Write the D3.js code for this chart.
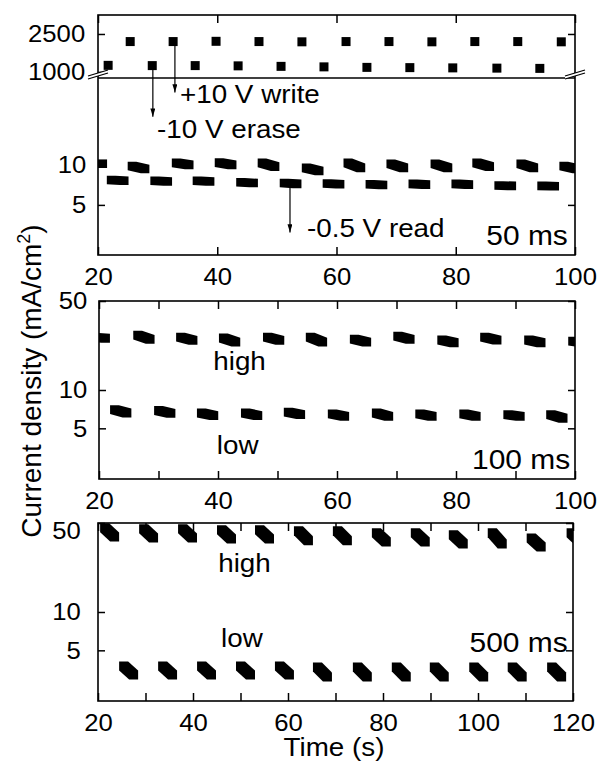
<!DOCTYPE html>
<html>
<head>
<meta charset="utf-8">
<script src="https://cdn.jsdelivr.net/npm/d3@7"></script>
<style>
body{margin:0;background:#fff;}
text{font-family:"Liberation Sans",Arial,sans-serif;fill:#000;}
</style>
</head>
<body>
<svg id="chart" width="597" height="764"></svg>
<script>
// ---- data ----
// write / erase pulses, 50 ms panel (mA/cm2)
const writeT = [25.4, 32.6, 39.8, 47.0, 54.2, 61.6, 68.8, 76.0, 83.2, 90.4, 97.7];
const writeV = [2200, 2200, 2210, 2200, 2190, 2200, 2200, 2190, 2200, 2200, 2190];
const eraseT = [21.7, 29.1, 36.3, 43.5, 50.7, 57.9, 65.1, 72.3, 79.5, 86.9, 94.1];
const eraseV = [1260, 1250, 1250, 1240, 1220, 1200, 1180, 1170, 1160, 1150, 1140];

// read dashes: [t start, t end, value start, value end]
const read50High = [
  [19.2, 20.8, 10.2, 10.2], [25.7, 27.9, 9.8, 9.3], [33.1, 35.3, 10.35, 10.0],
  [40.3, 42.5, 10.4, 10.0], [47.5, 49.7, 10.35, 9.7], [54.9, 57.1, 9.5, 9.0],
  [61.9, 64.1, 10.35, 9.5], [69.1, 71.3, 10.2, 9.5], [76.5, 78.7, 10.2, 9.5],
  [83.5, 85.7, 10.35, 9.7], [90.9, 93.1, 10.2, 9.5], [98.1, 100.3, 9.8, 9.3]
];
const read50Low = [
  [22.2, 24.4, 7.7, 7.6], [29.5, 31.7, 7.6, 7.5], [36.6, 38.8, 7.6, 7.5],
  [43.9, 46.1, 7.4, 7.3], [51.2, 53.4, 7.3, 7.2], [58.4, 60.6, 7.25, 7.15],
  [65.6, 67.8, 7.15, 7.05], [72.8, 75.0, 7.2, 7.1], [80.0, 82.2, 7.2, 7.1],
  [87.2, 89.4, 7.0, 6.95], [94.4, 96.6, 6.95, 6.9]
];
const read100High = [
  [19.0, 21.1, 26.0, 25.5], [26.5, 28.6, 27.0, 25.0], [33.7, 35.8, 26.0, 24.5],
  [40.9, 43.0, 25.6, 23.8], [48.3, 50.4, 26.0, 24.5], [55.5, 57.6, 26.0, 23.8],
  [62.9, 65.0, 25.1, 23.8], [70.2, 72.3, 26.5, 25.0], [77.6, 79.7, 24.7, 23.5],
  [84.8, 86.9, 26.0, 24.6], [92.2, 94.3, 24.7, 23.5], [99.6, 101.7, 24.2, 23.5]
];
const read100Low = [
  [22.6, 24.7, 7.0, 6.6], [30.0, 32.1, 6.9, 6.55], [37.2, 39.3, 6.6, 6.3],
  [44.6, 46.7, 6.6, 6.3], [51.8, 53.9, 6.7, 6.4], [59.2, 61.3, 6.5, 6.2],
  [66.6, 68.7, 6.6, 6.2], [73.9, 76.0, 6.5, 6.2], [81.3, 83.4, 6.5, 6.2],
  [88.7, 90.8, 6.4, 6.2], [95.9, 98.0, 6.4, 6.0]
];
const read500High = [
  [21.4, 23.5, 45.9, 38.9], [29.6, 31.7, 45.1, 38.2], [37.8, 39.9, 45.1, 38.2],
  [46.0, 48.1, 44.3, 37.5], [54.0, 56.1, 44.3, 37.5], [62.2, 64.3, 43.5, 36.2],
  [70.4, 72.5, 43.5, 36.2], [78.6, 80.7, 41.9, 35.5], [86.8, 88.9, 41.9, 35.5],
  [94.8, 96.9, 40.4, 34.2], [103.0, 105.1, 41.9, 34.2], [111.2, 113.3, 38.2, 32.4],
  [119.6, 121.7, 41.9, 35.5]
];
const read500Low = [
  [25.4, 27.5, 3.77, 3.2], [33.6, 35.7, 3.77, 3.2], [41.8, 43.9, 3.77, 3.2],
  [50.0, 52.1, 3.77, 3.2], [58.2, 60.3, 3.77, 3.2], [66.2, 68.3, 3.7, 3.09],
  [74.6, 76.7, 3.7, 3.09], [82.8, 84.9, 3.7, 3.09], [90.8, 92.9, 3.7, 3.09],
  [99.1, 101.2, 3.7, 3.09], [107.2, 109.3, 3.7, 3.09], [115.5, 117.6, 3.7, 3.09]
];

// tick values
const ticks100 = [20, 40, 60, 80, 100];
const minor100 = [20, 30, 40, 50, 60, 70, 80, 90, 100];
const ticks120 = [20, 40, 60, 80, 100, 120];
const minor120 = [20, 30, 40, 50, 60, 70, 80, 90, 100, 110, 120];
const upperTicks = [1000, 2500];
const logTicks = [5, 10, 50];

const SX = 1.07; // figure text is a little wide

const svg = d3.select("#chart");
svg.append("rect").attr("width", 597).attr("height", 764).attr("fill", "#fff");

const defs = svg.append("defs");
defs.append("marker").attr("id", "arr")
  .attr("viewBox", "0 0 10 6").attr("refX", 10).attr("refY", 3)
  .attr("markerWidth", 9).attr("markerHeight", 5).attr("markerUnits", "userSpaceOnUse")
  .attr("orient", "auto")
  .append("path").attr("d", "M0,0L10,3L0,6Z").attr("fill", "#000");

function hex(x0, y0, x1, y1, h){
  if (y1 >= y0)
    return `M${x0-h},${y0-h}L${x0+h},${y0-h}L${x1+h},${y1-h}L${x1+h},${y1+h}L${x1-h},${y1+h}L${x0-h},${y0+h}Z`;
  return `M${x0-h},${y0-h}L${x1-h},${y1-h}L${x1+h},${y1-h}L${x1+h},${y1+h}L${x0+h},${y0+h}L${x0-h},${y0+h}Z`;
}

function dashes(g, x, y, rows, h){
  g.selectAll(null).data(rows).join("path")
    .attr("d", r => hex(x(r[0]), y(r[2]), x(r[1]), y(r[3]), h))
    .attr("fill", "#000");
}

function clip(id, x0, y0, x1, y1){
  defs.append("clipPath").attr("id", id).append("rect")
    .attr("x", x0).attr("y", y0).attr("width", x1 - x0).attr("height", y1 - y0);
}

function styleAxis(g, size){
  g.select(".domain").remove();
  g.selectAll("line").attr("stroke", "#000").attr("stroke-width", 1.5);
  g.selectAll("text").attr("font-size", size).attr("font-family", null)
    .attr("transform", `scale(${SX},1)`);
}

function xAxes(x, top, bottom, major, minor, labels){
  svg.append("g").attr("transform", `translate(0,${bottom})`)
    .call(d3.axisBottom(x).tickValues(minor).tickSize(-8).tickFormat(""))
    .call(styleAxis, 24);
  svg.append("g").attr("transform", `translate(0,${top})`)
    .call(d3.axisTop(x).tickValues(minor).tickSize(-8).tickFormat(""))
    .call(styleAxis, 24);
  if (labels){
    svg.append("g").attr("transform", `translate(0,${bottom})`)
      .call(d3.axisBottom(x).tickValues(major).tickSize(0).tickPadding(13).tickFormat(d3.format("d")))
      .call(styleAxis, 24);
  }
}

function yAxes(y, left, right, vals, pad, rightVals){
  const gl = svg.append("g").attr("transform", `translate(${left},0)`)
    .call(d3.axisLeft(y).tickValues(vals).tickSize(-7).tickPadding(pad).tickFormat(d3.format("d")))
    .call(styleAxis, 24);
  svg.append("g").attr("transform", `translate(${right},0)`)
    .call(d3.axisRight(y).tickValues(rightVals || vals).tickSize(-7).tickFormat(""))
    .call(styleAxis, 24);
  return gl;
}

function frame(x0, y0, x1, y1){
  svg.append("rect").attr("x", x0).attr("y", y0).attr("width", x1 - x0).attr("height", y1 - y0)
    .attr("fill", "none").attr("stroke", "#000").attr("stroke-width", 1.6);
}

function label(x, y, str, size, anchor){
  svg.append("text").attr("transform", `translate(${x},${y}) scale(${SX},1)`)
    .attr("font-size", size).attr("text-anchor", anchor || "start").text(str);
}

function arrow(x, y0, y1){
  svg.append("line").attr("x1", x).attr("x2", x).attr("y1", y0).attr("y2", y1)
    .attr("stroke", "#000").attr("stroke-width", 1.2).attr("marker-end", "url(#arr)");
}

// ---- panel 1 : 50 ms (broken axis) ----
const x1 = d3.scaleLinear().domain([20, 100]).range([98, 575]);
const yUp = d3.scaleLinear().domain([760, 3250]).range([78, 15]);
const yLo = d3.scaleLog().domain([2.1, 45]).range([255, 78]);

clip("c1", 98, 78, 575, 255);
const g1 = svg.append("g").attr("clip-path", "url(#c1)");
dashes(g1, x1, yLo, read50High, 4.3);
dashes(g1, x1, yLo, read50Low, 4.3);

svg.append("g").selectAll(null).data(writeT).join("rect")
  .attr("x", d => x1(d) - 4.5).attr("y", (d, i) => yUp(writeV[i]) - 4.5)
  .attr("width", 9).attr("height", 9).attr("fill", "#000");
svg.append("g").selectAll(null).data(eraseT).join("rect")
  .attr("x", d => x1(d) - 4.5).attr("y", (d, i) => yUp(eraseV[i]) - 4.5)
  .attr("width", 9).attr("height", 9).attr("fill", "#000");

frame(98, 15, 575, 255);
svg.append("line").attr("x1", 98).attr("x2", 575).attr("y1", 78).attr("y2", 78)
  .attr("stroke", "#000").attr("stroke-width", 1.5);
xAxes(x1, 15, 255, ticks100, ticks100, true);
yAxes(yUp, 98, 575, upperTicks, 12, [2500]);
yAxes(yLo, 98, 575, [5, 10], 11, [5, 10]);

// axis break marks
[98, 575].forEach(bx => {
  svg.append("path").attr("d", `M${bx-10},${79}L${bx+10},${73}L${bx+10},${70}L${bx-10},${76}Z`).attr("fill", "#fff");
  svg.append("line").attr("x1", bx - 10).attr("y1", 79).attr("x2", bx + 10).attr("y2", 73)
    .attr("stroke", "#000").attr("stroke-width", 1.3);
  svg.append("line").attr("x1", bx - 10).attr("y1", 76).attr("x2", bx + 10).attr("y2", 70)
    .attr("stroke", "#000").attr("stroke-width", 1.3);
});

// annotations
arrow(x1(32.9), yUp(2200), yLo(35));
arrow(x1(29.2), yUp(1250), yLo(23));
arrow(x1(52.2), yLo(7.0), yLo(3.1));
label(x1(33.75), yLo(29.3), "+10 V write", 26);
label(x1(29.9), yLo(16.0), "-10 V erase", 26);
label(x1(55.05), yLo(2.87), "-0.5 V read", 26);
label(x1(98.8), yLo(2.5), "50 ms", 28, "end");

// ---- panel 2 : 100 ms ----
const x2 = d3.scaleLinear().domain([20, 100]).range([99, 575]);
const y2 = d3.scaleLog().domain([2, 50]).range([479, 301]);
clip("c2", 99, 301, 575, 479);
const g2 = svg.append("g").attr("clip-path", "url(#c2)");
dashes(g2, x2, y2, read100High, 4.4);
dashes(g2, x2, y2, read100Low, 4.4);
frame(99, 301, 575, 479);
xAxes(x2, 301, 479, ticks100, minor100, true);
yAxes(y2, 99, 575, logTicks, 11);
label(x2(39.2), y2(14.4), "high", 26);
label(x2(39.8), y2(3.16), "low", 26);
label(x2(99.2), y2(2.41), "100 ms", 28, "end");

// ---- panel 3 : 500 ms ----
const x3 = d3.scaleLinear().domain([20, 120]).range([98, 573]);
const y3 = d3.scaleLog().domain([2, 50]).range([701, 523]);
clip("c3", 98, 523, 573, 701);
const g3 = svg.append("g").attr("clip-path", "url(#c3)");
dashes(g3, x3, y3, read500High, 4.5);
dashes(g3, x3, y3, read500Low, 4.5);
frame(98, 523, 573, 701);
xAxes(x3, 523, 701, ticks120, minor120, true);
const gl3 = yAxes(y3, 98, 573, logTicks, 16);
// the "50" label sits a little below its tick
gl3.selectAll(".tick").filter(d => d === 50).select("text").attr("dy", "0.65em");
label(x3(45.3), y3(20.8), "high", 26);
label(x3(45.9), y3(5.28), "low", 26);
label(x3(118.9), y3(4.82), "500 ms", 28, "end");

// ---- axis titles ----
label(334, 756, "Time (s)", 26, "middle");
const yt = svg.append("text").attr("transform", "translate(41,381) rotate(-90)")
  .attr("font-size", 28).attr("text-anchor", "middle");
yt.append("tspan").text("Current density (mA/cm");
yt.append("tspan").attr("font-size", 18).attr("dy", -11).text("2");
yt.append("tspan").attr("dy", 11).text(")");
</script>
</body>
</html>
